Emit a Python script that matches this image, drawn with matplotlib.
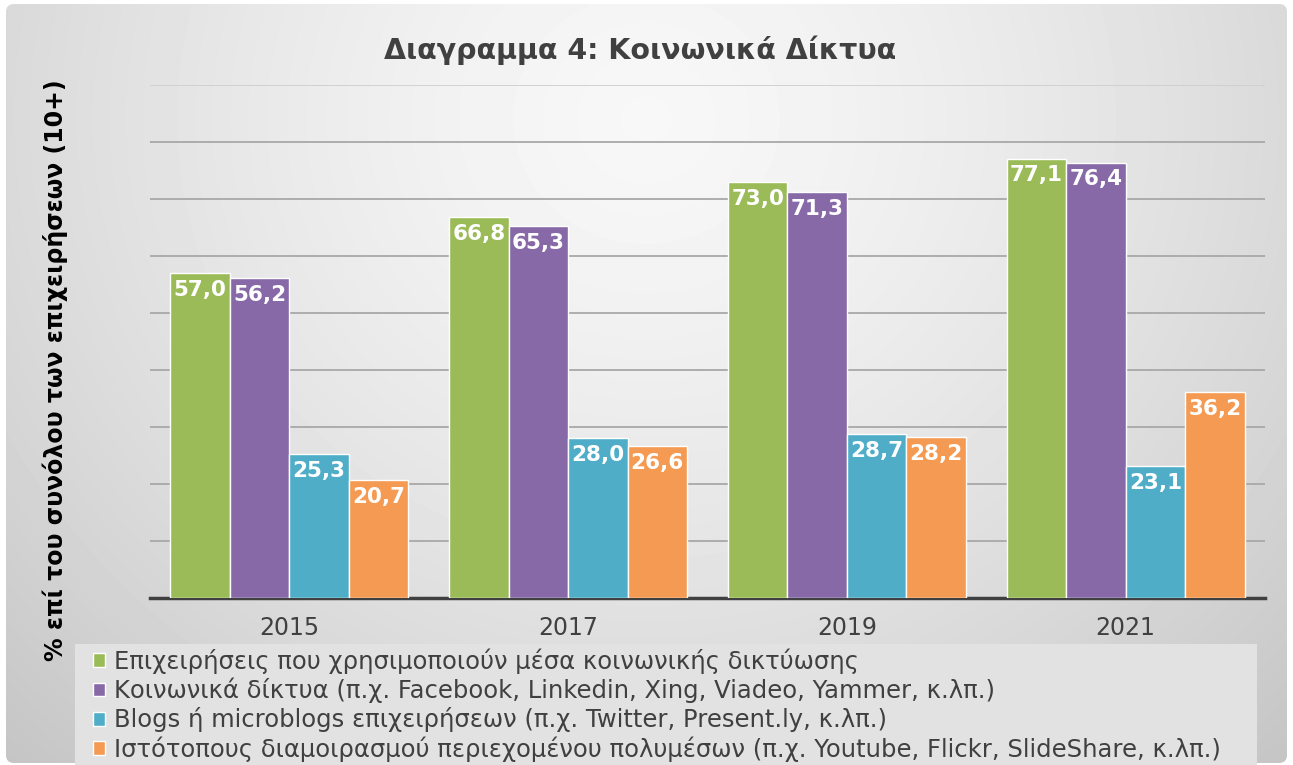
import numpy as np
import matplotlib.pyplot as plt
from matplotlib.patches import FancyBboxPatch, Rectangle

# Dados
anos = ["2015", "2017", "2019", "2021"]
epixeiriseis = [57.0, 66.8, 73.0, 77.1]
koinonika = [56.2, 65.3, 71.3, 76.4]
blogs = [25.3, 28.0, 28.7, 23.1]
polymesa = [20.7, 26.6, 28.2, 36.2]

series_labels = [
    "Επιχειρήσεις που χρησιμοποιούν μέσα κοινωνικής δικτύωσης",
    "Κοινωνικά δίκτυα (π.χ. Facebook, Linkedin, Xing, Viadeo, Yammer, κ.λπ.)",
    "Blogs ή microblogs επιχειρήσεων (π.χ. Twitter, Present.ly, κ.λπ.)",
    "Ιστότοπους διαμοιρασμού περιεχομένου πολυμέσων (π.χ. Youtube, Flickr, SlideShare, κ.λπ.)",
]
cores = ["#9BBB59", "#8769A8", "#4FADC7", "#F59A52"]

W, H = 1293, 765
fig = plt.figure(figsize=(W / 100, H / 100), dpi=100)

# Fundo com gradiente radial
bg = fig.add_axes([0, 0, 1, 1], zorder=-1)
bg.set_xlim(0, W)
bg.set_ylim(H, 0)
bg.axis("off")
xx, yy = np.meshgrid(np.linspace(0, 1, 400), np.linspace(0, 1, 240))
r = np.sqrt(((xx - 0.5) / 0.6) ** 2 + ((yy - 0.15) / 0.95) ** 2)
val = np.clip(0.97 - 0.15 * r ** 1.4, 0.77, 1)
img = bg.imshow(val, cmap="gray", vmin=0, vmax=1, extent=(6, W - 6, H - 2, 4),
                aspect="auto", interpolation="bilinear")
frame = FancyBboxPatch((6, 4), W - 12, H - 6, boxstyle="round,pad=0,rounding_size=8",
                       transform=bg.transData, facecolor="none", edgecolor="none")
bg.add_patch(frame)
img.set_clip_path(frame)

# caixa da legenda
bg.add_patch(Rectangle((75, 644), 1257 - 75, H - 644, facecolor="#e2e2e2",
                       edgecolor="none", zorder=2))

# Eixo principal
ax = fig.add_axes([150 / W, 1 - 598 / H, (1265 - 150) / W, (598 - 85) / H])
ax.patch.set_alpha(0)
x = np.arange(len(anos))
largura = 0.2133
valores = [epixeiriseis, koinonika, blogs, polymesa]
for i, (vals, cor, lab) in enumerate(zip(valores, cores, series_labels)):
    pos = x + (i - 1.5) * largura
    barras = ax.bar(pos, vals, largura, color=cor, edgecolor="white", linewidth=1,
                    label=lab, zorder=3)
    for b, v in zip(barras, vals):
        ax.annotate(f"{v:.1f}".replace(".", ","), (b.get_x() + b.get_width() / 2, v),
                    xytext=(0, -5), textcoords="offset points", ha="center", va="top",
                    color="white", fontsize=15.5, fontweight="bold", zorder=4)

ax.set_xlim(-0.5, 3.5)
ax.set_ylim(0, 90)
ax.set_yticks(np.arange(10, 91, 10))
ax.yaxis.grid(True, color="#a8a8a8", linewidth=1.3, zorder=0)
ax.get_ygridlines()[-1].set_color("#cfcfcf")
ax.tick_params(axis="y", left=False, labelleft=False)
ax.set_xticks(x)
ax.set_xticklabels(anos, fontsize=17, color="#404040")
ax.tick_params(axis="x", length=0, pad=13)
for s in ["top", "right", "left"]:
    ax.spines[s].set_visible(False)
ax.spines["bottom"].set_color("#404040")
ax.spines["bottom"].set_linewidth(2.5)

fig.text(640 / W, 1 - 50 / H, "Διαγραμμα 4: Κοινωνικά Δίκτυα", ha="center", va="center",
         fontsize=20.5, fontweight="bold", color="#404040")
fig.text(55 / W, 1 - 370 / H, "% επί του συνόλου των επιχειρήσεων (10+)", rotation=90,
         ha="center", va="center", fontsize=17, fontweight="bold", color="black")

leg = fig.legend(loc="upper left", bbox_to_anchor=(93 / W, 1 - 648 / H),
                 fontsize=17.5, frameon=False,
                 handlelength=0.5, handleheight=0.5, handletextpad=0.35,
                 borderpad=0, labelspacing=0.17, borderaxespad=0)
for t in leg.get_texts():
    t.set_color("#404040")

plt.savefig("out.png", dpi=100)
